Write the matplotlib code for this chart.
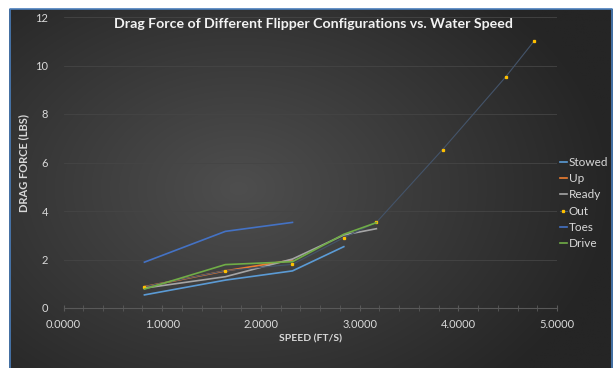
import numpy as np
import matplotlib
matplotlib.use("Agg")
import matplotlib.pyplot as plt
from matplotlib.ticker import MultipleLocator, FormatStrFormatter
from matplotlib.lines import Line2D

# speeds (ft/s) and drag force (lbs)
speed = [0.82, 1.64, 2.32, 2.84, 3.17, 3.84, 4.48, 4.77]
stowed = [0.54, 1.15, 1.53, 2.53]
up = [0.88, 1.53, 1.98]
ready = [0.82, 1.29, 2.02, 3.01, 3.27]
out = [0.88, 1.54, 1.80, 2.90, 3.53, 6.53, 9.53, 11.02]
toes = [1.89, 3.16, 3.53]
drive = [0.78, 1.79, 1.91, 3.04, 3.52]

series = [
    ("Stowed", stowed, "#5B9BD5"),
    ("Up", up, "#ED7D31"),
    ("Ready", ready, "#A5A5A5"),
    ("Out", out, "#44546A"),
    ("Toes", toes, "#4472C4"),
    ("Drive", drive, "#70AD47"),
]

plt.rcParams['font.family'] = ['Lato', 'DejaVu Sans']

fig = plt.figure(figsize=(6.13, 3.68), dpi=100)
fig.patch.set_facecolor("white")

# radial gradient background for the chart area
bg = fig.add_axes([9 / 613, 0, 604 / 613, 359 / 368])
bg.set_axis_off()
yy, xx = np.mgrid[0:1:300j, 0:1:500j]
r = np.sqrt(((xx - 0.38) * 1.2) ** 2 + (yy - 0.5) ** 2)
r = np.clip(r / 0.75, 0, 1)
inner = np.array([0x4e, 0x4e, 0x4e]) / 255
outer = np.array([0x25, 0x25, 0x25]) / 255
img = inner[None, None, :] * (1 - r[..., None]) + outer[None, None, :] * r[..., None]
bg.imshow(img, aspect="auto", extent=[0, 1, 0, 1], interpolation="bilinear")
bg.set_xlim(0, 1)
bg.set_ylim(0, 1)
# blue border on left, top and right (bottom runs off the picture)
bcol = "#4A7EBB"
bg.add_line(Line2D([0.001, 0.001, 0.998, 0.998], [0, 0.999, 0.999, 0], color=bcol, lw=1.2,
                   transform=bg.transAxes, clip_on=False))

ax = fig.add_axes([63.5 / 613, 60 / 368, 493.5 / 613, 291 / 368])
ax.set_facecolor("none")

for name, vals, col in series:
    xs = speed[:len(vals)]
    if name == "Out":
        ax.plot(xs, vals, color=col, lw=0.8, marker="s", ms=1.4,
                mfc="#FFC000", mec="#FFC000", label=name)
    else:
        ax.plot(xs, vals, color=col, lw=1.2, label=name)

ax.set_xlim(0, 5)
ax.set_ylim(0, 12)
ax.xaxis.set_major_locator(MultipleLocator(1))
ax.xaxis.set_minor_locator(MultipleLocator(0.2))
ax.xaxis.set_major_formatter(FormatStrFormatter("%.4f"))
ax.yaxis.set_major_locator(MultipleLocator(2))

for s in ["top", "right", "left"]:
    ax.spines[s].set_visible(False)
ax.spines["bottom"].set_color("#595959")
ax.spines["bottom"].set_linewidth(0.8)

ax.grid(axis="y", color="#454545", lw=0.6)
ax.set_axisbelow(True)
ax.tick_params(axis="x", which="both", direction="inout", length=4, color="#595959",
               labelcolor="#D9D9D9", labelsize=8, pad=6)
ax.tick_params(axis="y", length=0, labelcolor="#D9D9D9", labelsize=8, pad=11)

ax.set_xlabel("SPEED (FT/S)", color="#D9D9D9", fontsize=7.5, fontweight="bold", labelpad=3)
ax.set_ylabel("DRAG FORCE (LBS)", color="#D9D9D9", fontsize=8, fontweight="bold", labelpad=4)

fig.text(313 / 613, 1 - 24 / 368, "Drag Force of Different Flipper Configurations vs. Water Speed",
         ha="center", va="center", color="#F2F2F2", fontsize=10.2, fontweight="bold")

leg = fig.legend(loc="upper left", bbox_to_anchor=(555 / 613, 1 - 152 / 368), frameon=False,
                 fontsize=8.5, handlelength=0.6, handletextpad=0.15, labelspacing=0.45,
                 borderaxespad=0)
for t in leg.get_texts():
    t.set_color("#D9D9D9")

fig.savefig("out.png", dpi=100)
